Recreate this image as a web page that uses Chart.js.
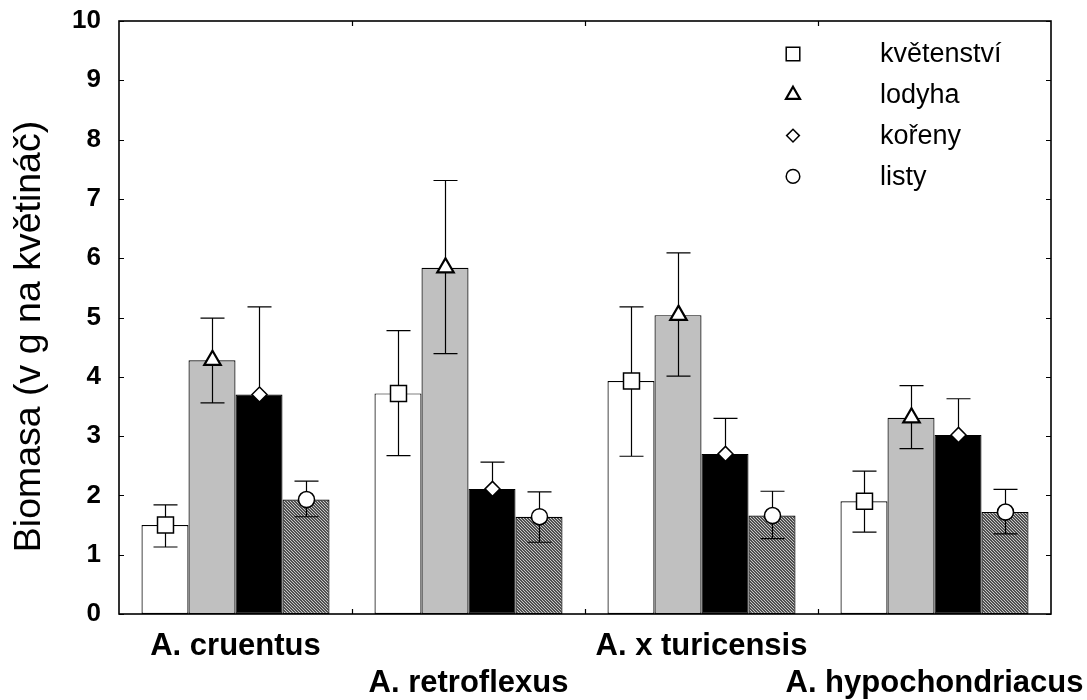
<!DOCTYPE html>
<html>
<head>
<meta charset="utf-8">
<script src="https://cdn.jsdelivr.net/npm/chart.js@4/dist/chart.umd.min.js"></script>
<style>
  body { margin: 0; background: #fff; }
  #wrap { width: 1087px; height: 700px; }
</style>
</head>
<body>
<div id="wrap"><canvas id="biomasaChart"></canvas></div>
<script>
// species and plant parts
const species = ["A. cruentus", "A. retroflexus", "A. x turicensis", "A. hypochondriacus"];
const parts = ["květenství", "lodyha", "kořeny", "listy"];
const yTicks = [0, 1, 2, 3, 4, 5, 6, 7, 8, 9, 10];
const yTitle = "Biomasa (v g na květináč)";

// mean biomass (g per pot)
const kvetenstvi = [1.50, 3.72, 3.93, 1.90];
const lodyha = [4.28, 5.84, 5.04, 3.31];
const koreny = [3.70, 2.11, 2.70, 3.02];
const listy = [1.93, 1.64, 1.66, 1.72];

// error bar limits
const kvetenstviHi = [1.84, 4.78, 5.18, 2.41];
const kvetenstviLo = [1.13, 2.67, 2.66, 1.38];
const lodyhaHi = [4.99, 7.31, 6.09, 3.85];
const lodyhaLo = [3.56, 4.39, 4.01, 2.79];
const korenyHi = [5.18, 2.56, 3.30, 3.63];
const korenyLo = [2.22, 1.66, 2.10, 2.41];
const listyHi = [2.24, 2.06, 2.07, 2.10];
const listyLo = [1.64, 1.21, 1.27, 1.35];

const FONT = "'Liberation Sans', Arial, sans-serif";

// fine diagonal hatch for the leaf bars
function makeHatch() {
    const c = document.createElement("canvas");
    c.width = 3; c.height = 3;
    const p = c.getContext("2d");
    p.fillStyle = "#c8c8c8";
    p.fillRect(0, 0, 3, 3);
    p.fillStyle = "#505050";
    for (let i = 0; i < 3; i++) {
        p.fillRect(i, i, 1, 1);
        p.fillRect((i + 1) % 3, i, 1, 1);
    }
    return p.createPattern(c, "repeat");
}

const markers = [
    { pointStyle: "rect", radius: 11.3, borderWidth: 1.5 },
    { pointStyle: "triangle", radius: 9.5, borderWidth: 2.2 },
    { pointStyle: "rectRot", radius: 7.5, borderWidth: 1.5 },
    { pointStyle: "circle", radius: 8, borderWidth: 1.5 }
];

function drawMarker(ctx, m, x, y, scale) {
    ctx.fillStyle = "#fff";
    ctx.strokeStyle = "#000";
    ctx.lineWidth = m.borderWidth;
    Chart.helpers.drawPoint(ctx, {
        pointStyle: m.pointStyle,
        radius: m.radius * (scale || 1),
        rotation: 0,
        borderWidth: m.borderWidth
    }, x, y);
}

// frame, inner ticks, error bars, markers, legend and axis title
const overlay = {
    id: "overlay",
    afterDatasetsDraw(chart) {
        const { ctx, chartArea: a, scales: { x, y } } = chart;
        ctx.save();

        // error bars then markers
        chart.data.datasets.forEach((ds, i) => {
            const meta = chart.getDatasetMeta(i);
            meta.data.forEach((bar, j) => {
                const cx = Math.round(bar.x) + 0.5;
                const hi = y.getPixelForValue(ds.errHi[j]);
                const lo = y.getPixelForValue(ds.errLo[j]);
                ctx.strokeStyle = "#000";
                ctx.lineWidth = 1.2;
                ctx.beginPath();
                ctx.moveTo(cx, lo); ctx.lineTo(cx, hi);
                ctx.moveTo(cx - 12, hi); ctx.lineTo(cx + 12, hi);
                ctx.moveTo(cx - 12, lo); ctx.lineTo(cx + 12, lo);
                ctx.stroke();
                drawMarker(ctx, markers[i], cx, y.getPixelForValue(ds.data[j]));
            });
        });

        // plot frame
        ctx.strokeStyle = "#000";
        ctx.lineWidth = 1.6;
        ctx.strokeRect(a.left, a.top, a.right - a.left, a.bottom - a.top);

        // inner ticks on the value axis, both sides
        ctx.lineWidth = 1.2;
        ctx.beginPath();
        yTicks.forEach(v => {
            const py = Math.round(y.getPixelForValue(v)) + 0.5;
            ctx.moveTo(a.left, py); ctx.lineTo(a.left + 5, py);
            ctx.moveTo(a.right, py); ctx.lineTo(a.right - 5, py);
        });
        // ticks between species groups, top and bottom
        for (let i = 0; i < species.length - 1; i++) {
            const px = Math.round((x.getPixelForValue(i) + x.getPixelForValue(i + 1)) / 2) + 0.5;
            ctx.moveTo(px, a.bottom); ctx.lineTo(px, a.bottom - 5);
            ctx.moveTo(px, a.top); ctx.lineTo(px, a.top + 5);
        }
        ctx.stroke();

        // legend inside the plot
        ctx.font = "27px " + FONT;
        ctx.textBaseline = "middle";
        ctx.textAlign = "left";
        parts.forEach((name, i) => {
            const ly = a.top + 33 + i * 40.8;
            drawMarker(ctx, markers[i], a.right - 258, ly, 0.85);
            ctx.fillStyle = "#000";
            ctx.fillText(name, a.right - 171, ly + 1);
        });

        // rotated value-axis title, sitting a bit below the plot middle
        ctx.translate(30, (a.top + a.bottom) / 2 + 19);
        ctx.rotate(-Math.PI / 2);
        ctx.font = "37.5px " + FONT;
        ctx.textAlign = "center";
        ctx.fillStyle = "#000";
        ctx.fillText(yTitle, 0, 0);

        ctx.restore();
    }
};

const ctx = document.getElementById("biomasaChart").getContext("2d");
const hatch = makeHatch();

// staggered species labels: every other one drops to the second line
const labels = species.map((s, i) => i % 2 === 0 ? [s, ""] : ["", s]);

new Chart(ctx, {
    type: "bar",
    data: {
        labels: labels,
        datasets: [
            { label: parts[0], data: kvetenstvi, errHi: kvetenstviHi, errLo: kvetenstviLo, backgroundColor: "#ffffff" },
            { label: parts[1], data: lodyha, errHi: lodyhaHi, errLo: lodyhaLo, backgroundColor: "#c0c0c0" },
            { label: parts[2], data: koreny, errHi: korenyHi, errLo: korenyLo, backgroundColor: "#000000" },
            { label: parts[3], data: listy, errHi: listyHi, errLo: listyLo, backgroundColor: hatch }
        ].map(d => Object.assign(d, { borderColor: "#000", borderWidth: 1.2, borderSkipped: false }))
    },
    options: {
        responsive: true,
        maintainAspectRatio: false,
        animation: false,
        layout: { padding: { top: 21, right: 36, left: 0, bottom: 0 } },
        datasets: { bar: { categoryPercentage: 0.807, barPercentage: 1.0 } },
        plugins: { legend: { display: false }, tooltip: { enabled: false } },
        scales: {
            x: {
                grid: { display: false, drawTicks: false },
                border: { display: false },
                ticks: {
                    color: "#000",
                    font: { family: FONT, size: 31, weight: "bold", lineHeight: 1.2 },
                    padding: 14,
                    maxRotation: 0,
                    autoSkip: false
                },
                afterFit(scale) {
                    scale.height = 86;
                    scale.paddingLeft = 0;
                    scale.paddingRight = 0;
                }
            },
            y: {
                min: 0,
                max: 10,
                grid: { display: false, drawTicks: false },
                border: { display: false },
                ticks: {
                    stepSize: 1,
                    color: "#000",
                    font: { family: FONT, size: 26, weight: "bold" },
                    padding: 18
                },
                afterFit(scale) {
                    scale.width = 119;
                    scale.paddingTop = 0;
                    scale.paddingBottom = 0;
                }
            }
        }
    },
    plugins: [overlay]
});
</script>
</body>
</html>
